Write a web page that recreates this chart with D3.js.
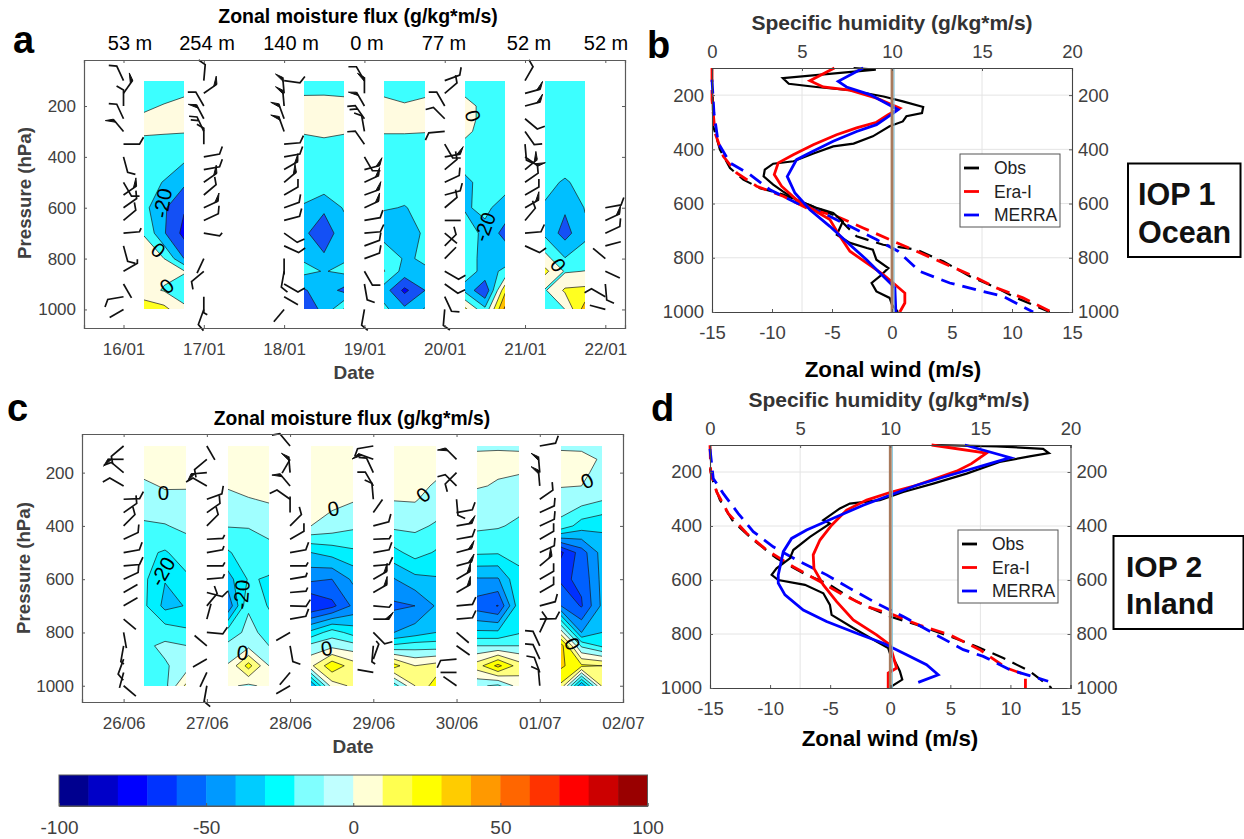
<!DOCTYPE html>
<html>
<head>
<meta charset="utf-8">
<script src="https://cdn.jsdelivr.net/npm/d3@7"></script>
<style>
body { margin: 0; background: #fff; }
text { font-family: "Liberation Sans", Arial, sans-serif; }
</style>
</head>
<body>
<script>
// pressure levels of the gridded moisture flux, every strip has 3 columns (start, mid, end)
const fluxLevels = [100, 150, 200, 250, 300, 400, 500, 600, 700, 800, 850, 925, 1000];

const stripDaysA = [0, 2, 3, 4, 5];
const stripsA = [
  [[-10,-10,-10],[-8,-5,-2],[-3,1,5],[3,8,8],[1,1,1],[-5,-8,-15],[-12,-21,-36],[-14,-37,-58],[-1,-38,-66],[8,0,-40],[8,3,2],[5,-1,-12],[35,26,5]],
  [[-10,-10,-10],[-1,-1,-1.5],[5,6,4],[5,6,4],[1,1,1],[-8,-3,-8],[-15,-5,-13],[-21,-37,-18],[-37,-50,-30],[-22,-37,-22],[-15,-21,-16],[-42,-30,-45],[-50,-36,2]],
  [[-10,-10,-10],[-2,-6,-2],[5,2,4],[5,5,4],[1,1,0.5],[-10,-10,-10],[-16,-15,-15],[-19,-20.5,-17],[-28,-30,-17],[-6,-22,-18],[1,-28,-22],[-30,-65,-40],[-15,-35,-18]],
  [[-10,-10,-10],[-2,-6,-8],[5,-4,-7],[5,-4,-7],[3,-5,-7],[-8,-7,-8],[-25,-12,-12],[-22,-16,-28],[-10,-25,-47],[-11,-26,-24],[-14,-24,-18],[-25,-58,35],[25,-15,65]],
  [[-10,-10,-10],[-8,-8,-8],[-7,-7,-7],[-7,-7,-7],[-7,-7,-7],[-8,-10,-10],[-15,-22,-14],[-22,-37,-19],[-25,-48,-24],[8,-19,-12],[25,-2,0.5],[-2,23,25],[-15,0,50]]
];

const stripDaysC = [0, 1, 2, 3, 4, 5];
const stripsC = [
  [[5,5,5],[5,5,5],[3,5,5],[-3,1.5,1],[-6,-4,-3],[-11,-10.5,-8],[-18,-21,-15],[-18,-29.5,-22],[-18,-33,-29.5],[-15,-14,-18],[-12,-8,-9.8],[-15,-11,-6],[-12,-13,12]],
  [[5,5,5],[5,5,5],[5,5,5],[1,3,3],[-3,-0.5,1],[-9.5,-9.5,-6],[-21,-15,-14],[-34,-19,-21],[-48,-11,-21],[-15,-7.5,-13],[-8,-3,-10],[1,24,0],[2,-2,3]],
  [[5,5,5],[5,5,5],[5,5,3],[5,5,3],[4,3,1],[0,-4,-8],[-30,-26,-22],[-48,-50,-38],[-70,-63,-48],[-27,-15,-24],[-7,-3,-6],[8,27,15],[-40,5,12]],
  [[5,5,5],[5,5,5],[5,5,3],[5,5,-2],[0.5,1,-5],[-8,-8,-11],[-23,-16,-21],[-40.5,-33,-31],[-52,-50,-39],[-40,-35,-30],[-18,-15,-15],[24,10,14],[-15,10,25]],
  [[-2,-2,-2],[3,4,3],[3,1,0.5],[1,-1,-3],[-4,-4,-6],[-8,-9,-12],[-18.5,-19,-19],[-41,-41,-21],[-55,-60.5,-24],[-28,-28,-21],[-10,-10,-10],[15,33,15],[-8,-12,5]],
  [[-2,-2,-2],[4,3,-1],[4,2,-3],[0.5,0,-6],[-4,-5,-9],[-13,-25,-28],[-72,-55,-36],[-62,-58,-37],[-50,-61,-38],[5,-40,-30],[35,-12,-22],[32,22,20],[18,-40,12]]
];

const bandLevelsA = [-80, -60, -40, -20, 0, 20, 40, 60];
const bandColorsA = ['#0000ff', '#0000ff', '#1450f5', '#00bfff', '#3cffff', '#fffbe0', '#ffff20', '#ffc000', '#ff6a00'];
const bandLevelsC = [-80, -70, -60, -50, -40, -30, -20, -10, 0, 10, 20, 30, 40];
const bandColorsC = ['#0000c8', '#0000ff', '#0030ff', '#0060ff', '#0090ff', '#00bfff', '#00f0ff', '#40ffff', '#a0ffff', '#ffffe0', '#ffff80', '#ffff00', '#ffd000', '#ff9900'];

// wind barbs, every 50 hPa, one column per day: [heading from up clockwise, speed]
const barbLevels = [100,150,200,250,300,350,400,450,500,550,600,650,700,750,800,850,900,950,1000];
const barbsA = [
  [[-25,10],[35,50],[0,10],[-25,10],[-40,50],[90,10],[165,10],null,[150,10],[55,50],[55,10],[50,10],[85,5],[165,10],null,[60,5],[150,0],[-100,10],[240,0]],
  [[5,10],[55,50],[-30,10],[-28,50],[-25,20],[0,10],[80,10],[80,10],[55,50],[50,10],[65,50],[65,10],[100,5],null,[205,0],[230,10],null,[180,5],[200,10]],
  [[98,10],[-5,50],[-5,50],[-20,50],[-20,50],[85,10],[80,10],[60,50],[50,50],[60,10],[70,10],[75,10],[125,10],[115,10],[180,0],[190,10],[120,10],[120,0],[220,0]],
  [[-30,10],[0,50],[-30,50],[-35,20],[-10,10],[-35,10],[150,10],[75,50],[65,50],[70,50],[65,50],[80,10],[85,10],[70,10],[70,10],[150,10],[170,10],null,[190,10]],
  [[70,10],[50,10],[-30,10],[-45,10],[-95,10],[150,10],[80,50],[50,10],[65,10],[75,10],[50,10],[90,0],[130,0],[45,10],[45,0],[120,10],[125,10],[155,10],[185,10]],
  [[30,10],[75,50],[75,50],[130,10],[145,10],[175,10],[125,50],[50,50],[55,10],[60,10],[60,50],[40,10],[85,10],[115,10],null,null,null,null,null],
  [null,null,null,null,null,null,null,null,null,null,[80,10],[65,50],[65,10],[75,0],[-50,0],[115,0],[175,10],[-60,10],[-75,0]]
];
const barbsC = [
  [[230,10],[-90,50],[-50,10],[-60,10],[88,10],[55,10],[45,10],[65,10],[80,10],[85,10],[65,10],[60,0],[60,0],[130,0],[170,0],[190,5],[200,10],[195,0],[130,0]],
  [[150,0],[230,10],[-95,50],[-60,10],[70,10],[55,10],[45,10],[87,5],[80,5],[90,5],[85,5],[105,10],[40,10],[15,0],[95,10],[-50,0],[240,0],[205,0],[190,10]],
  [[-40,10],[210,0],[-5,50],[-40,50],[-55,10],[0,0],[45,10],[60,10],[80,10],[90,5],[80,5],[85,5],[92,10],[80,10],[-120,0],[170,10],null,[-140,0],[-120,0]],
  [[-100,10],[-70,50],[-25,10],[-30,10],[-5,10],[35,0],[75,10],[88,5],[80,10],[85,10],[60,50],[60,50],[95,5],[90,50],[135,10],[185,5],[20,5],[-80,0],null],
  [null,[-45,50],[225,10],[-45,10],[175,10],[80,10],[80,50],[80,10],[75,50],[75,50],[60,50],[60,50],[85,10],[85,10],[130,0],[125,0],[-95,10],[-90,0],[-55,0]],
  [[80,10],null,[-5,50],[-5,50],[55,10],[65,10],[65,10],[60,10],[65,10],[50,50],[60,10],[60,10],[75,10],[88,10],[25,10],[-25,10],[-25,10],[-20,10],[-5,10]]
];

const dayLabelsA = ['16/01', '17/01', '18/01', '19/01', '20/01', '21/01', '22/01'];
const dayLabelsC = ['26/06', '27/06', '28/06', '29/06', '30/06', '01/07', '02/07'];
const heightLabels = ['53 m', '254 m', '140 m', '0 m', '77 m', '52 m', '52 m'];
const pressureTicks = [200, 400, 600, 800, 1000];

// contour labels: [day, pressure, text, rotation]
const contourLabelsA = [[0.49,582,'-20',-80],[0.43,767,'0',40],[0.54,909,'0',-40],[4.35,239,'0',75],[4.5,676,'-20',-70],[5.41,826,'0',55]];
const contourLabelsC = [[0.48,276,'0',0],[0.47,572,'-20',-60],[1.43,876,'0',5],[1.42,658,'-20',-85],[2.44,861,'0',-10],[2.52,336,'0',-10],[3.6,284,'0',-40],[5.57,231,'0',-25],[5.39,843,'0',65]];

// profiles as [pressure, value]
const obsWindB = [[100,-3.2],[106,-1.35],[137,-9.1],[158,-8.6],[170,-6.3],[182,-3.5],[205,-0.7],[223,0.9],[244,2.6],[266,2.5],[278,1.2],[297,0.9],[315,-0.2],[352,-1.6],[379,-3.2],[389,-4.9],[416,-6.6],[444,-8.2],[453,-9.9],[475,-10.6],[500,-10.7],[530,-9.9],[555,-9.1],[586,-8],[616,-6.3],[635,-4.9],[666,-4.1],[715,-4.6],[745,-3.5],[764,-2.1],[770,-1.6],[807,-1.3],[838,-0.3],[868,-1],[893,-1.7],[924,-1.3],[948,-0.2],[973,0],[1000,0.5]];
const eraWindB = [[100,-4.8],[147,-6.84],[170,-5.73],[182,-3.51],[211,-1.29],[248,0.65],[272,-0.32],[300,-1.29],[321,-2.95],[346,-4.62],[383,-6.56],[420,-8.23],[450,-9.48],[493,-9.81],[536,-9.2],[586,-7.95],[623,-6.56],[659,-5.18],[721,-4.34],[776,-3.51],[819,-2.12],[862,-0.73],[893,0.1],[930,1.07],[967,1.07],[1000,0.65]];
const merraWindB = [[100,-2.4],[149,-4.48],[170,-3.79],[198,-1.84],[254,0.51],[284,-0.46],[309,-1.29],[334,-2.95],[370,-4.9],[413,-6.84],[438,-7.95],[500,-8.73],[561,-8.09],[623,-6.84],[684,-5.18],[752,-3.51],[807,-2.12],[868,-0.73],[911,0.24],[1000,0.32]];
const obsHumB = [[205,0.04],[315,0.07],[401,0.44],[469,1],[512,1.74],[543,2.66],[567,3.96],[616,5.81],[647,6.92],[721,8.03],[752,9.51],[770,11.36],[813,12.84],[868,14.32],[911,15.8],[948,16.91],[1000,18.76]];
const eraHumB = [[100,0],[217,0],[340,0.17],[426,0.63],[487,1.37],[536,2.48],[573,3.96],[616,5.25],[647,6.92],[690,8.4],[733,9.88],[776,11.36],[819,12.84],[862,14.32],[911,15.8],[948,17.28],[1000,18.85]];
const merraHumB = [[143,0],[266,0.11],[377,0.35],[450,1],[493,2.11],[549,3.22],[598,4.7],[635,6.18],[684,7.66],[733,9.14],[776,10.34],[850,11.54],[893,13.21],[918,14.69],[942,16.17],[1000,17.84]];

const obsWindD = [[100,3.57],[105,8.84],[114,12.72],[130,13.2],[142,11.6],[163,9.1],[206,6.35],[243,3.57],[274,1.08],[304,-0.86],[317,-3.36],[335,-4.19],[378,-5.57],[391,-5.02],[440,-6.68],[489,-8.07],[520,-8.35],[557,-9.46],[581,-9.87],[600,-9.32],[618,-7.1],[649,-5.57],[692,-5.02],[729,-4.88],[778,-3.08],[828,-1.14],[852,-0.17],[871,-0.03],[901,0.39],[938,0.8],[969,1],[994,0.11],[1000,0.11]];
const eraWindD = [[100,3.44],[130,8.01],[169,6.76],[197,5.52],[249,2.19],[276,-0.03],[304,-1.97],[341,-3.63],[397,-4.88],[452,-5.85],[507,-6.41],[557,-6.35],[618,-5.57],[680,-4.46],[748,-3.08],[803,-1.14],[840,-0.03],[926,0.53],[945,-0.17],[1000,-0.17]];
const merraWindD = [[100,6.21],[147,10],[169,8.29],[212,4.96],[249,2.19],[286,-0.03],[323,-2.25],[366,-4.46],[415,-6.96],[446,-8.21],[495,-8.9],[581,-9.32],[612,-9.32],[655,-8.76],[711,-7.24],[754,-5.3],[797,-2.8],[834,-0.58],[877,1.36],[914,3.02],[951,3.99],[979,2.33]];
const obsHumD = [[187,0],[237,0.18],[304,0.55],[384,1.29],[452,2.4],[520,3.7],[575,5.18],[618,6.65],[680,8.13],[735,9.98],[766,11.46],[809,13.31],[846,14.79],[889,16.27],[938,17.74],[1000,18.95]];
const eraHumD = [[101,0],[200,0.04],[274,0.37],[354,1.02],[427,2.03],[489,3.14],[551,4.62],[606,6.1],[655,7.39],[698,8.69],[729,10.17],[768,11.65],[803,13.31],[858,14.97],[926,16.45],[951,17.5],[1000,17.5]];
const merraHumD = [[114,0],[224,0.18],[280,0.74],[354,1.57],[421,2.4],[477,3.51],[526,4.81],[581,6.47],[631,7.76],[686,9.24],[735,10.72],[797,12.38],[858,14.05],[883,15.16],[932,16.64],[975,18.76]];

const windTicks = [-15, -10, -5, 0, 5, 10, 15];
const humTicks = [0, 5, 10, 15, 20];
const seriesNames = ['Obs', 'Era-I', 'MERRA'];
const seriesColors = ['#000000', '#ff0000', '#0000ff'];

const colorbarColors = ['#00008f','#0000c8','#0000ff','#0033ff','#0066ff','#0099ff','#00ccff','#00ffff','#80ffff','#c0ffff','#ffffd5','#ffff50','#ffff00','#ffcc00','#ff9900','#ff6600','#ff3300','#ff0000','#cc0000','#990000'];
const colorbarTicks = [-100, -50, 0, 50, 100];

const gray = '#404040';
const axisColor = '#5a5a5a';

const svg = d3.select('body').append('svg')
    .attr('width', 1244)
    .attr('height', 839);

function label(x, y, txt, opts = {}) {
    return svg.append('text')
        .attr('x', x).attr('y', y)
        .attr('text-anchor', opts.anchor || 'middle')
        .attr('font-size', opts.size || 17)
        .attr('font-weight', opts.bold ? 'bold' : 'normal')
        .attr('fill', opts.fill || '#000')
        .attr('transform', opts.rotate ? `rotate(${opts.rotate},${x},${y})` : null)
        .text(txt);
}

function styleAxis(g, size) {
    g.selectAll('path.domain').attr('stroke', axisColor);
    g.selectAll('.tick line').attr('stroke', axisColor);
    g.selectAll('.tick text')
        .attr('fill', gray)
        .attr('font-size', size)
        .attr('font-family', '"Liberation Sans", Arial, sans-serif');
}

function drawBarb(g, x0, y0, heading, speed) {
    const staff = 16, len = speed === 5 ? 4 : 8;
    const a = heading * Math.PI / 180, b = (heading - 60) * Math.PI / 180;
    const tx = x0 + staff * Math.sin(a), ty = y0 - staff * Math.cos(a);
    const p = d3.path();
    p.moveTo(x0, y0);
    p.lineTo(tx, ty);
    if (speed > 0 && speed !== 50) p.lineTo(tx + len * Math.sin(b), ty - len * Math.cos(b));
    if (speed === 20) {
        const mx = x0 + (staff - 4) * Math.sin(a), my = y0 - (staff - 4) * Math.cos(a);
        p.moveTo(mx, my);
        p.lineTo(mx + len * Math.sin(b), my - len * Math.cos(b));
    }
    g.append('path').attr('d', p.toString())
        .attr('fill', 'none').attr('stroke', '#111').attr('stroke-width', 1.7);
    if (speed === 50) {
        const fx = tx + 8 * Math.sin(b), fy = ty - 8 * Math.cos(b);
        const bx = x0 + (staff - 4) * Math.sin(a), by = y0 - (staff - 4) * Math.cos(a);
        g.append('path').attr('d', `M${tx},${ty}L${fx},${fy}L${bx},${by}Z`)
            .attr('fill', '#111').attr('stroke', '#111').attr('stroke-width', 1);
    }
}

function fluxPanel(cfg) {
    const x = d3.scaleLinear().domain(cfg.dayDomain).range([cfg.left, cfg.right]);
    const y = d3.scaleLinear().domain(cfg.pDomain).range([cfg.top, cfg.bottom]);
    const g = svg.append('g');

    g.append('rect')
        .attr('x', cfg.left).attr('y', cfg.top)
        .attr('width', cfg.right - cfg.left).attr('height', cfg.bottom - cfg.top)
        .attr('fill', '#fff');

    const color = d3.scaleThreshold().domain(cfg.levels).range(cfg.colors);
    const nx = 3, ny = fluxLevels.length;
    const rowP = d3.scaleLinear()
        .domain([0, ...fluxLevels.map((d, i) => i + 0.5), ny])
        .range([60, ...fluxLevels, 1040]);

    cfg.strips.forEach((rows, s) => {
        const day = cfg.days[s];
        const x0 = Math.round(x(day + 0.25)), x1 = Math.round(x(day + 0.75));
        const y0 = Math.round(y(100)), y1 = Math.round(y(1000));
        const colX = d3.scaleLinear().domain([0.5, 2.5]).range([x0, x1]);
        const path = d3.geoPath(d3.geoTransform({
            point(px, py) { this.stream.point(colX(px), y(rowP(py))); }
        }));
        const clipId = `${cfg.id}-strip-${s}`;
        g.append('clipPath').attr('id', clipId).append('rect')
            .attr('x', x0).attr('y', y0)
            .attr('width', x1 - x0).attr('height', y1 - y0);

        const values = rows.flat();
        const low = d3.min(values);
        const polys = d3.contours().size([nx, ny]).thresholds(cfg.levels)(values)
            .filter(d => d.value > low);
        const sg = g.append('g').attr('clip-path', `url(#${clipId})`);
        sg.append('rect')
            .attr('x', x0).attr('y', y0)
            .attr('width', x1 - x0).attr('height', y1 - y0)
            .attr('fill', color(low));
        sg.selectAll('path.fill').data(polys).join('path')
            .attr('class', 'fill')
            .attr('d', path)
            .attr('fill', d => color(d.value));
        sg.selectAll('path.iso').data(polys).join('path')
            .attr('class', 'iso')
            .attr('d', path)
            .attr('fill', 'none')
            .attr('stroke', '#1a1a1a')
            .attr('stroke-width', 0.7);
    });

    cfg.barbs.forEach((col, c) => {
        col.forEach((b, i) => {
            if (b) drawBarb(g, x(c), y(barbLevels[i]), b[0], b[1]);
        });
    });

    cfg.labels.forEach(([d, p, t, r]) => {
        const px = x(d), py = y(p);
        g.append('text')
            .attr('transform', `translate(${px},${py}) rotate(${r})`)
            .attr('text-anchor', 'middle').attr('dy', 7)
            .attr('font-size', 20.5).attr('fill', '#000')
            .text(t);
    });

    const ticks = d3.range(cfg.dayLabels.length);
    const xa = g.append('g').attr('transform', `translate(0,${cfg.bottom})`)
        .call(d3.axisBottom(x).tickValues(ticks).tickFormat(d => cfg.dayLabels[d]).tickSize(-3).tickPadding(14.5));
    styleAxis(xa, 17);
    const xt = g.append('g').attr('transform', `translate(0,${cfg.top})`)
        .call(d3.axisTop(x).tickValues(ticks).tickFormat('').tickSize(-3));
    styleAxis(xt, 16);
    const ya = g.append('g').attr('transform', `translate(${cfg.left},0)`)
        .call(d3.axisLeft(y).tickValues(pressureTicks).tickFormat(String).tickSize(-3).tickPadding(8));
    styleAxis(ya, 17);
    const yr = g.append('g').attr('transform', `translate(${cfg.right},0)`)
        .call(d3.axisRight(y).tickValues(pressureTicks).tickFormat('').tickSize(-3));
    styleAxis(yr, 16);
    g.selectAll('path.domain').attr('stroke-width', 1.2);
}

function profilePanel(cfg) {
    const u = d3.scaleLinear().domain([-15, 15]).range([cfg.left, cfg.right]);
    const q = d3.scaleLinear().domain([0, 20]).range([cfg.left, cfg.right]);
    const y = d3.scaleLinear().domain([100, 1000]).range([cfg.top, cfg.bottom]);
    const g = svg.append('g');

    g.append('g').selectAll('line.h').data(pressureTicks.slice(0, -1)).join('line')
        .attr('x1', cfg.left).attr('x2', cfg.right)
        .attr('y1', d => y(d)).attr('y2', d => y(d))
        .attr('stroke', '#e4e4e4').attr('stroke-width', 1);
    g.append('g').selectAll('line.v').data([5, 15]).join('line')
        .attr('x1', d => q(d)).attr('x2', d => q(d))
        .attr('y1', cfg.top).attr('y2', cfg.bottom)
        .attr('stroke', '#e4e4e4').attr('stroke-width', 1);

    const windLine = d3.line().x(d => u(d[1])).y(d => y(d[0]));
    const humLine = d3.line().x(d => q(d[1])).y(d => y(d[0]));
    cfg.hum.forEach((s, i) => {
        g.append('path').attr('d', humLine(s))
            .attr('fill', 'none').attr('stroke', seriesColors[i])
            .attr('stroke-width', i ? 2.8 : 2.2).attr('stroke-dasharray', '14,8');
    });
    cfg.wind.forEach((s, i) => {
        g.append('path').attr('d', windLine(s))
            .attr('fill', 'none').attr('stroke', seriesColors[i])
            .attr('stroke-width', i ? 2.8 : 2.2);
    });

    g.append('line').attr('x1', u(0) + 2).attr('x2', u(0) + 2)
        .attr('y1', cfg.top).attr('y2', cfg.bottom)
        .attr('stroke', '#7fc4dc').attr('stroke-width', 1.2);
    g.append('line').attr('x1', u(0)).attr('x2', u(0))
        .attr('y1', cfg.top).attr('y2', cfg.bottom)
        .attr('stroke', '#a97a5c').attr('stroke-width', 2.8);

    const b = g.append('g').attr('transform', `translate(0,${cfg.bottom})`)
        .call(d3.axisBottom(u).tickValues(windTicks).tickFormat(String).tickSize(-3).tickPadding(14));
    styleAxis(b, 18.5);
    const t = g.append('g').attr('transform', `translate(0,${cfg.top})`)
        .call(d3.axisTop(q).tickValues(humTicks).tickFormat(String).tickSize(-3).tickPadding(10));
    styleAxis(t, 18.5);
    const l = g.append('g').attr('transform', `translate(${cfg.left},0)`)
        .call(d3.axisLeft(y).tickValues(pressureTicks).tickFormat(String).tickSize(-3).tickPadding(8));
    styleAxis(l, 18.5);
    const r = g.append('g').attr('transform', `translate(${cfg.right},0)`)
        .call(d3.axisRight(y).tickValues(pressureTicks).tickFormat(String).tickSize(-3).tickPadding(6));
    styleAxis(r, 18.5);
    g.selectAll('path.domain').attr('stroke', '#444').attr('stroke-width', 1.1);

    // legend
    g.append('rect')
        .attr('x', cfg.legX).attr('y', cfg.legY).attr('width', 100).attr('height', 73)
        .attr('fill', '#fff').attr('stroke', '#555').attr('stroke-width', 1);
    seriesNames.forEach((n, i) => {
        const ly = cfg.legY + 14 + i * 23.5;
        g.append('line').attr('x1', cfg.legX + 4).attr('x2', cfg.legX + 19)
            .attr('y1', ly).attr('y2', ly)
            .attr('stroke', seriesColors[i]).attr('stroke-width', 2.8);
        g.append('text').attr('x', cfg.legX + 34).attr('y', ly + 6)
            .attr('font-size', 17.5).attr('fill', '#222').text(n);
    });
}

fluxPanel({
    id: 'a', left: 84, right: 625, top: 60, bottom: 328,
    dayDomain: [-0.492, 6.245], pDomain: [19, 1073],
    days: stripDaysA, strips: stripsA, levels: bandLevelsA, colors: bandColorsA,
    barbs: barbsA, labels: contourLabelsA, dayLabels: dayLabelsA
});
fluxPanel({
    id: 'c', left: 82, right: 623, top: 434, bottom: 702,
    dayDomain: [-0.5, 6], pDomain: [55, 1061],
    days: stripDaysC, strips: stripsC, levels: bandLevelsC, colors: bandColorsC,
    barbs: barbsC, labels: contourLabelsC, dayLabels: dayLabelsC
});
profilePanel({
    left: 712, right: 1072, top: 68, bottom: 312,
    wind: [obsWindB, eraWindB, merraWindB], hum: [obsHumB, eraHumB, merraHumB],
    legX: 960, legY: 154
});
profilePanel({
    left: 710, right: 1070.5, top: 445, bottom: 688,
    wind: [obsWindD, eraWindD, merraWindD], hum: [obsHumD, eraHumD, merraHumD],
    legX: 958, legY: 530
});

// titles and axis names
label(358, 23, 'Zonal moisture flux (g/kg*m/s)', { bold: true, size: 19.5 });
label(352, 425, 'Zonal moisture flux (g/kg*m/s)', { bold: true, size: 19.3 });
label(354, 379, 'Date', { bold: true, size: 19, fill: gray });
label(353, 753, 'Date', { bold: true, size: 19, fill: gray });
label(31, 193, 'Pressure (hPa)', { bold: true, size: 18.7, fill: gray, rotate: -90 });
label(30, 568, 'Pressure (hPa)', { bold: true, size: 18.7, fill: gray, rotate: -90 });
label(892, 30, 'Specific humidity (g/kg*m/s)', { bold: true, size: 21, fill: '#333' });
label(889, 407, 'Specific humidity (g/kg*m/s)', { bold: true, size: 21, fill: '#333' });
label(893, 377, 'Zonal wind (m/s)', { bold: true, size: 22.4 });
label(890, 746, 'Zonal wind (m/s)', { bold: true, size: 22.4 });

const heightX = [130, 207, 291, 367, 444, 529, 606];
heightLabels.forEach((t, i) => label(heightX[i], 50, t, { size: 20 }));

label(13, 53, 'a', { bold: true, size: 38, anchor: 'start' });
label(647, 58, 'b', { bold: true, size: 38, anchor: 'start' });
label(7, 421, 'c', { bold: true, size: 38, anchor: 'start' });
label(651, 421, 'd', { bold: true, size: 38, anchor: 'start' });

// IOP boxes
svg.append('rect').attr('x', 1128).attr('y', 163.5).attr('width', 112.5).attr('height', 93.5)
    .attr('fill', '#fff').attr('stroke', '#000').attr('stroke-width', 2);
label(1138, 205, 'IOP 1', { bold: true, size: 30.5, anchor: 'start', fill: '#111' });
label(1138, 243, 'Ocean', { bold: true, size: 30.5, anchor: 'start', fill: '#111' });
svg.append('rect').attr('x', 1113.5).attr('y', 536).attr('width', 130).attr('height', 93)
    .attr('fill', '#fff').attr('stroke', '#000').attr('stroke-width', 2);
label(1126, 577, 'IOP 2', { bold: true, size: 30, anchor: 'start', fill: '#111' });
label(1126, 614, 'Inland', { bold: true, size: 30, anchor: 'start', fill: '#111' });

// colorbar
const cb = d3.scaleLinear().domain([-100, 100]).range([59, 647.5]);
const cbStep = 200 / colorbarColors.length;
svg.append('g').selectAll('rect').data(colorbarColors).join('rect')
    .attr('x', (d, i) => cb(-100 + i * cbStep))
    .attr('y', 775)
    .attr('width', cb(cbStep - 100) - cb(-100) + 0.5)
    .attr('height', 31)
    .attr('fill', d => d);
const cbAxis = svg.append('g').attr('transform', 'translate(0,806)')
    .call(d3.axisBottom(cb).tickValues(colorbarTicks).tickFormat(String).tickSize(-3).tickPadding(15));
styleAxis(cbAxis, 19);
svg.append('rect').attr('x', 59).attr('y', 775).attr('width', 588.5).attr('height', 31)
    .attr('fill', 'none').attr('stroke', axisColor).attr('stroke-width', 1);
</script>
</body>
</html>
